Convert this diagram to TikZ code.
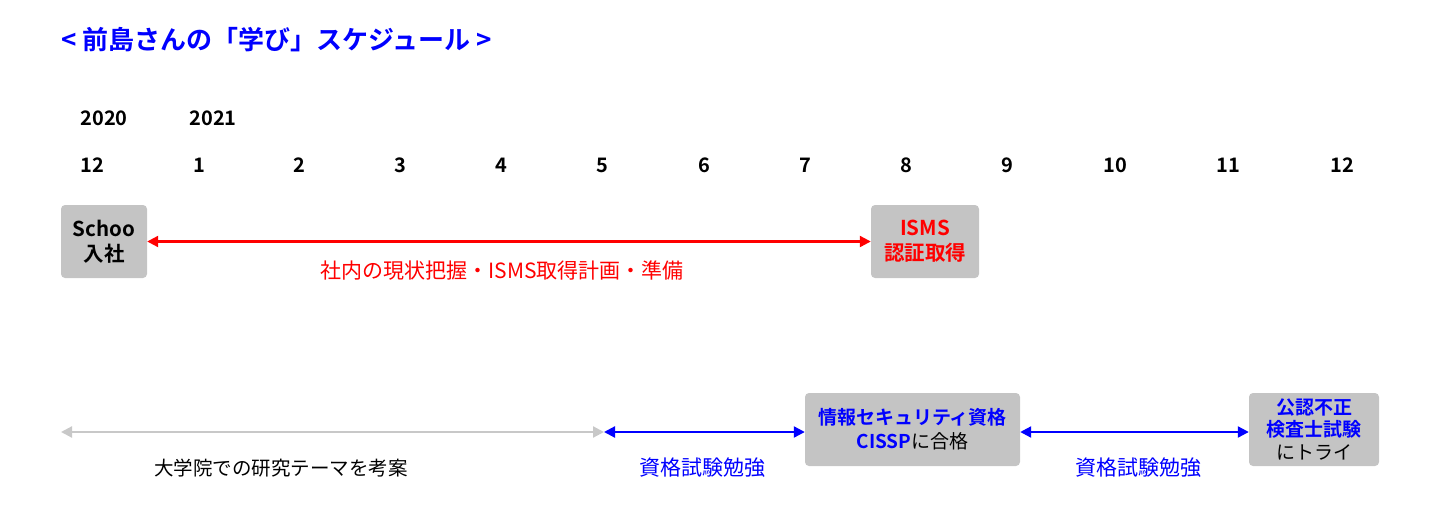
\documentclass[tikz,border=0pt]{standalone}
\usepackage{fontspec}
\setmainfont{Noto Sans CJK JP}[BoldFont={Noto Sans CJK JP Bold}]
\usetikzlibrary{arrows.meta}
\definecolor{myblue}{RGB}{0,0,255}
\definecolor{myred}{RGB}{255,0,0}
\definecolor{boxgray}{RGB}{196,196,196}
\definecolor{linegray}{RGB}{200,200,200}
\tikzset{
  box/.style={fill=boxgray, rounded corners=4pt, inner sep=0pt, align=center, font=\fontsize{19}{24}\selectfont\bfseries},
  bigbox/.style={box, font=\fontsize{20.5}{25}\selectfont\bfseries},
  lbl/.style={inner sep=0pt, font=\fontsize{21}{25}\selectfont},
  num/.style={inner sep=0pt, font=\fontsize{20}{24}\selectfont\bfseries},
  arr/.style={line width=2.2pt, {Triangle[length=11pt,width=11pt]}-{Triangle[length=11pt,width=11pt]}},
}
\begin{document}
\begin{tikzpicture}[x=1pt,y=-1pt]
\useasboundingbox (0,0) rectangle (1440,511);
% title
\node[inner sep=0pt, anchor=west, text=myblue, font=\fontsize{26}{30}\selectfont\bfseries] (title) at (61,40) {< 前島さんの「学び」スケジュール >};
% years
\node[num] (y2020) at (104,118) {2020};
\node[num] (y2021) at (213,118) {2021};
% months
\node[num] (m12a) at (92,165) {12};
\node[num] (m1) at (199,165) {1};
\node[num] (m2) at (299,165) {2};
\node[num] (m3) at (400,165) {3};
\node[num] (m4) at (501,165) {4};
\node[num] (m5) at (602,165) {5};
\node[num] (m6) at (704,165) {6};
\node[num] (m7) at (805,165) {7};
\node[num] (m8) at (906,165) {8};
\node[num] (m9) at (1007,165) {9};
\node[num] (m10) at (1115,165) {10};
\node[num] (m11) at (1228,165) {11};
\node[num] (m12b) at (1342,165) {12};
% boxes
\node[bigbox, minimum width=86pt, minimum height=73pt] (schoo) at (104,241.5) {Schoo\\入社};
\node[bigbox, minimum width=108pt, minimum height=73pt, text=myred] (isms) at (925,241.5) {ISMS\\認証取得};
\node[box, minimum width=215pt, minimum height=73pt] (cissp) at (912.5,429.5) {\textcolor{myblue}{情報セキュリティ資格}\\\textcolor{myblue}{CISSP}\mdseries に合格};
\node[box, minimum width=130pt, minimum height=73pt, font=\fontsize{19}{22.5}\selectfont\bfseries] (cfe) at (1314,429.5) {\textcolor{myblue}{公認不正}\\\textcolor{myblue}{検査士試験}\\\mdseries にトライ};
% connectors
\draw[arr, myred] (schoo.east) -- (isms.west);
\node[lbl, text=myred] (l1) at (502,271) {社内の現状把握・ISMS取得計画・準備};
\coordinate (g0) at (61,432);
\coordinate (g5) at (604,432);
\draw[arr, linegray] (g0) -- (g5);
\node[lbl, font=\fontsize{19.5}{24}\selectfont] (l2) at (281,468) {大学院での研究テーマを考案};
\draw[arr, myblue] (g5) -- (g5 -| cissp.west);
\node[lbl, text=myblue] (l3) at (702,468) {資格試験勉強};
\draw[arr, myblue] (cissp.east |- g5) -- (cfe.west |- g5);
\node[lbl, text=myblue] (l4) at (1138,468) {資格試験勉強};
\end{tikzpicture}
\end{document}
